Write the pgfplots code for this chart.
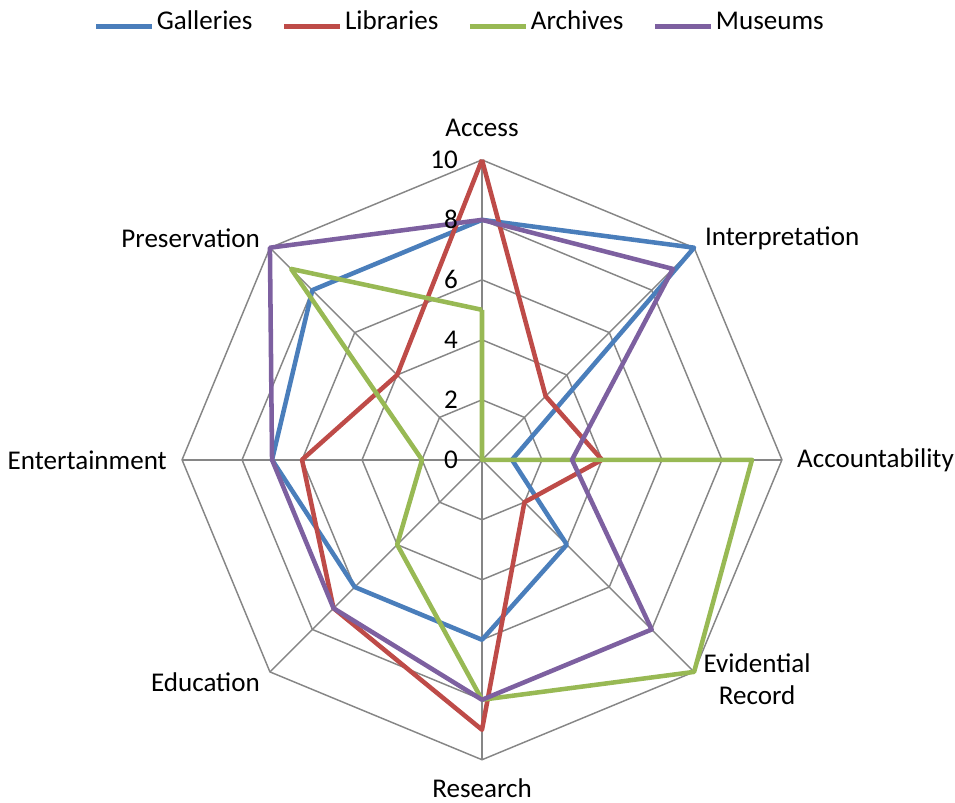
\documentclass[border=0pt]{standalone}
\usepackage{pgfplots}
\pgfplotsset{compat=1.18}
\usepgfplotslibrary{polar}
\usepackage{fontspec}
\setmainfont{Carlito}
\definecolor{cgal}{RGB}{74,126,187}
\definecolor{clib}{RGB}{190,75,72}
\definecolor{carc}{RGB}{152,185,84}
\definecolor{cmus}{RGB}{125,96,160}
\definecolor{cgrid}{RGB}{134,134,134}
\begin{document}
\begin{tikzpicture}
\begin{axis}[
  x=22.5pt, y=22.5pt,
  xmin=-16.07, xmax=15.77, ymin=-11.43, ymax=15.33,
  hide axis, clip=false,
  font=\fontsize{20.3pt}{24pt}\selectfont,
  legend columns=4,
  legend style={draw=none, fill=none, at={(axis cs:-0.73,14.45)}, anchor=center,
    font=\fontsize{20.3pt}{24pt}\selectfont,
    /tikz/every even column/.append style={column sep=20pt},
    inner sep=0pt, nodes={inner sep=2pt, text height=0.72em, text depth=0.22em}},
  legend image code/.code={\draw[#1] (0pt,0pt) -- (42pt,0pt);},
]
\path (axis cs:-16.07,-11.43) rectangle (axis cs:15.77,15.33);
% grid
\pgfplotsinvokeforeach{2,4,6,8,10}{
  \addplot[cgrid, line width=1.1pt, forget plot, data cs=polar] coordinates {(90,#1)(45,#1)(0,#1)(315,#1)(270,#1)(225,#1)(180,#1)(135,#1)(90,#1)};
}
\pgfplotsinvokeforeach{0,45,90,135,180,225,270,315}{
  \addplot[cgrid, line width=1.1pt, forget plot, data cs=polar] coordinates {(#1,0)(#1,10)};
}
% data: Access, Interpretation, Accountability, Evidential Record, Research, Education, Entertainment, Preservation
\addplot[cgal, line width=3.4pt, line join=round, data cs=polar] coordinates {(90,8)(45,10)(0,1)(315,4)(270,6)(225,6)(180,7)(135,8)(90,8)};
\addlegendentry{Galleries}
\addplot[clib, line width=3.4pt, line join=round, data cs=polar] coordinates {(90,10)(45,3)(0,4)(315,2)(270,9)(225,7)(180,6)(135,4)(90,10)};
\addlegendentry{Libraries}
\addplot[carc, line width=3.4pt, line join=round, data cs=polar] coordinates {(90,5)(45,0)(0,9)(315,10)(270,8)(225,4)(180,2)(135,9)(90,5)};
\addlegendentry{Archives}
\addplot[cmus, line width=3.4pt, line join=round, data cs=polar] coordinates {(90,8)(45,9)(0,3)(315,8)(270,8)(225,7)(180,7)(135,10)(90,8)};
\addlegendentry{Museums}
% tick labels
\pgfplotsinvokeforeach{0,2,4,6,8,10}{
  \node[anchor=east, inner sep=0pt] at (axis cs:-0.8,#1) {#1};
}
% category labels
\node at (axis cs:0,11.07) {Access};
\node[anchor=west, inner sep=0pt] at (axis cs:7.43,7.4) {Interpretation};
\node[anchor=west, inner sep=0pt] at (axis cs:10.5,0) {Accountability};
\node[align=center, inner sep=0pt] at (axis cs:9.17,-7.33) {Evidential\\Record};
\node[anchor=base, inner sep=0pt] at (axis cs:0,-11.25) {Research};
\node[anchor=east, inner sep=0pt] at (axis cs:-7.4,-7.43) {Education};
\node[anchor=east, inner sep=0pt] at (axis cs:-10.5,0) {Entertainment};
\node[anchor=east, inner sep=0pt] at (axis cs:-7.4,7.4) {Preservation};
\end{axis}
\end{tikzpicture}
\end{document}
